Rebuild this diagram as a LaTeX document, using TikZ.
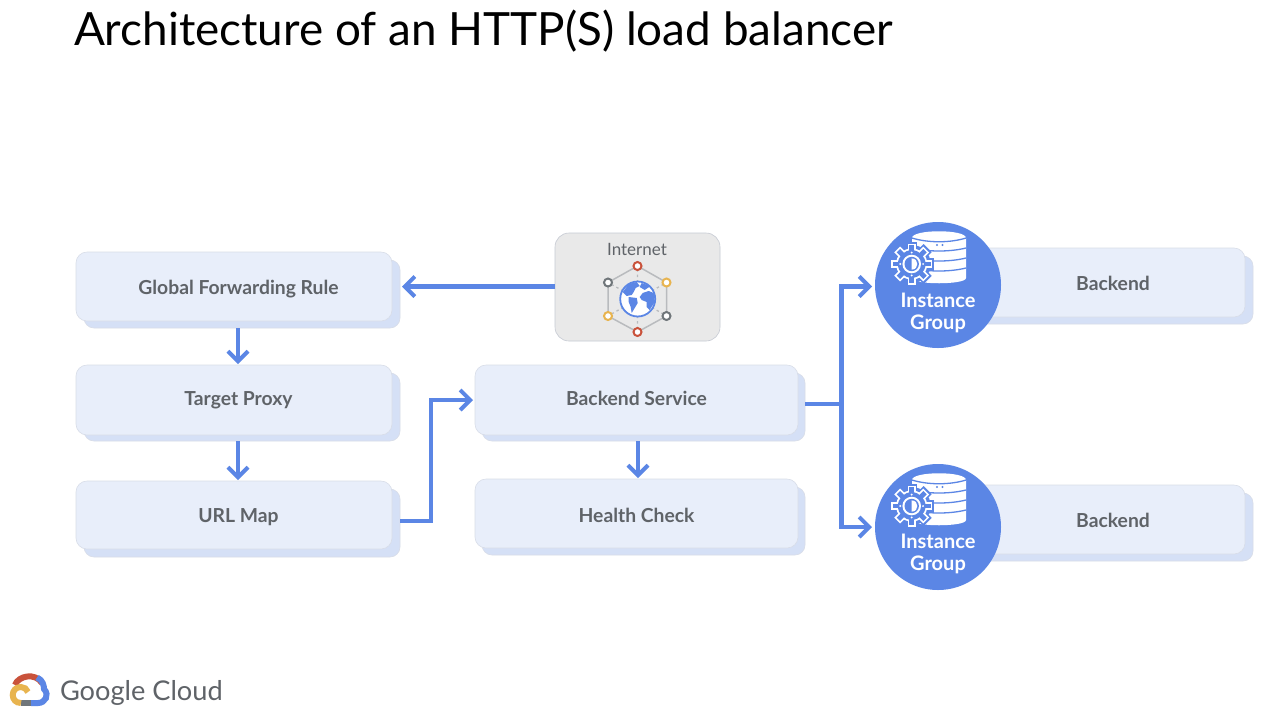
\documentclass[tikz,border=0pt]{standalone}
\usepackage{fontspec}
\setmainfont{Lato}
\usetikzlibrary{arrows.meta}
\definecolor{gblue}{HTML}{5B86E5}
\definecolor{boxfront}{HTML}{E8EEFA}
\definecolor{boxback}{HTML}{D5E0F6}
\definecolor{boxline}{HTML}{D8DDE8}
\definecolor{labelgrey}{HTML}{5F6368}
\definecolor{netgrey}{HTML}{E9E9E9}
\definecolor{hexgrey}{HTML}{B9BBBE}
\definecolor{gred}{HTML}{C9523B}
\definecolor{gyellow}{HTML}{E8B44F}
\definecolor{ggrey}{HTML}{70767A}
\newcommand{\boxlabel}[2]{\raisebox{#1}[0pt][0pt]{#2}}
\tikzset{
  every node/.style={inner sep=0pt,outer sep=0pt},
  frontbox/.style={draw=boxline,line width=.6pt,fill=boxfront,rounded corners=11pt,anchor=north west,text=labelgrey,align=center,font=\fontsize{19.3}{23}\selectfont\bfseries},
  backbox/.style={draw=boxline,line width=.6pt,fill=boxback,rounded corners=10pt,anchor=north west},
  flow/.style={draw=gblue,line width=4.2pt,-{Straight Barb[length=10pt,width=20pt,line width=4pt]}},
  flowplain/.style={draw=gblue,line width=4.2pt},
  netdot/.style={circle,draw=#1,fill=white,line width=2pt,minimum size=8pt},
  grouptext/.style={text=white,font=\fontsize{20}{22}\selectfont\bfseries,align=center},
  igroup/.pic={
    % database
    \fill[white] (-26,-47) .. controls (-26,-56) and (28,-56) .. (28,-47) -- (28,-7) .. controls (28,0) and (-26,0) .. (-26,-7) -- cycle;
    \foreach \yy in {-37,-27,-17}{\draw[gblue,line width=1.3pt] (-26,\yy) .. controls (-10,\yy+4) and (12,\yy+4) .. (28,\yy);}
    \draw[gblue,line width=1.3pt] (-26,-47) .. controls (-10,-42) and (12,-42) .. (28,-47);
    \fill[gblue] (-1,-40) circle (1.1) (4.5,-40) circle (1.1);
    % gear
    \fill[gblue] (-26.3,-21) circle (19);
    \foreach \a in {0,45,...,315}{\fill[gblue,rotate around={\a:(-26.3,-21)}] (-32,-43.5) rectangle (-20.6,-36);}
    \foreach \a in {0,45,...,315}{\fill[white,rotate around={\a:(-26.3,-21)}] (-30.5,-41.5) rectangle (-22.1,-34);}
    \fill[white] (-26.3,-21) circle (15.6);
    \foreach \a in {0,45,...,315}{\fill[gblue,rotate around={\a:(-26.3,-21)}] (-28.7,-39.8) rectangle (-23.9,-33);}
    \fill[gblue] (-26.3,-21) circle (13.8);
    \fill[white] (-26.3,-21) circle (9.3);
    \fill[gblue] (-26.3,-21) circle (7.2);
    \fill[white] (-26.3,-26.6) -- (-26.3,-15.4) .. controls (-22.5,-15.4) and (-20.7,-18) .. (-20.7,-21) .. controls (-20.7,-24) and (-22.5,-26.6) .. (-26.3,-26.6) -- cycle;
    \foreach \a in {0,90,180,270}{\fill[white] (-26.3,-21) ++(\a:11.4) circle (1.1);}
  },
}
\begin{document}
\begin{tikzpicture}[x=1pt,y=-1pt]
\useasboundingbox (0,0) rectangle (1280,716);
\fill[white] (0,0) rectangle (1280,716);

\node[anchor=west,text=black,font=\fontsize{45.8}{50}\selectfont] (title) at (74,31) {Architecture of an HTTP(S) load balancer};

% boxes
\node[backbox,minimum width=316pt,minimum height=68pt] (gfrb) at (84,260) {};
\node[frontbox,minimum width=316pt,minimum height=69pt] (gfr) at (76,252) {\boxlabel{-7.5pt}{\hspace*{9pt}Global Forwarding Rule}};
\node[backbox,minimum width=316pt,minimum height=68pt] (tpb) at (84,373) {};
\node[frontbox,minimum width=316pt,minimum height=70pt] (tp) at (76,365) {\boxlabel{-5pt}{\hspace*{9pt}Target Proxy}};
\node[backbox,minimum width=316pt,minimum height=68pt] (umb) at (84,489) {};
\node[frontbox,minimum width=316pt,minimum height=68pt] (um) at (76,481) {\boxlabel{-7pt}{\hspace*{9pt}URL Map}};
\node[backbox,minimum width=323pt,minimum height=68pt] (bsb) at (482,373) {};
\node[frontbox,minimum width=323pt,minimum height=70pt] (bs) at (475,365) {\boxlabel{-5pt}{Backend Service}};
\node[backbox,minimum width=323pt,minimum height=68pt] (hcb) at (482,487) {};
\node[frontbox,minimum width=323pt,minimum height=69pt] (hc) at (475,479) {\boxlabel{-8.5pt}{Health Check}};
\node[backbox,minimum width=300pt,minimum height=68pt] (be1b) at (953,256) {};
\node[frontbox,minimum width=300pt,minimum height=69pt] (be1) at (945,248) {\boxlabel{-7.5pt}{\hspace*{36pt}Backend}};
\node[backbox,minimum width=300pt,minimum height=68pt] (be2b) at (953,493) {};
\node[frontbox,minimum width=300pt,minimum height=69pt] (be2) at (945,485) {\boxlabel{-7.5pt}{\hspace*{36pt}Backend}};

% internet
\node[draw=boxline!80!gray,line width=.6pt,fill=netgrey,rounded corners=14pt,anchor=north west,minimum width=165pt,minimum height=108pt] (net) at (555,233) {};
\node[text=labelgrey,font=\fontsize{17}{20}\selectfont] (nettext) at (637,249.5) {Internet};
\coordinate (h1) at (637.5,266);
\coordinate (h2) at (666.5,282.5);
\coordinate (h3) at (666.5,316);
\coordinate (h4) at (637.5,332);
\coordinate (h5) at (608,316);
\coordinate (h6) at (608,282.5);
\coordinate (gc) at (637.7,299);
\draw[hexgrey,line width=1.5pt] (h1)--(h2)--(h3)--(h4)--(h5)--(h6)--cycle;
\foreach \p in {h1,h2,h3,h4,h5,h6}{\draw[hexgrey,line width=1.3pt,dash pattern=on 2.5pt off 3pt] (gc)--(\p);}
\fill[white] (gc) circle (17.5);
\draw[gblue,line width=1.8pt] (gc) circle (17.5);
\begin{scope}[shift={(gc)}]
\fill[gblue] (-15,-7) -- (-9,-15) -- (-1,-17) -- (2,-13) -- (-2,-11) -- (-4,-7) -- (-6,-4) -- (-11,-3) -- cycle;
\fill[gblue] (-9,-2) -- (-1,-1) -- (0,4) -- (-3,9) -- (-6,14) -- (-7,8) -- (-9,3) -- cycle;
\fill[gblue] (5,-6) -- (11,-8) -- (16,-6) -- (17,3) -- (12,11) -- (9,8) -- (9,3) -- (4,1) -- (2,-2) -- cycle;
\fill[gblue] (4,-16) -- (13,-13) -- (7,-9) -- (2,-12) -- cycle;
\end{scope}
\node[netdot=gred] (n1) at (h1) {};
\node[netdot=gyellow] (n2) at (h2) {};
\node[netdot=ggrey] (n3) at (h3) {};
\node[netdot=gred] (n4) at (h4) {};
\node[netdot=gyellow] (n5) at (h5) {};
\node[netdot=ggrey] (n6) at (h6) {};

% instance groups
\node[circle,fill=gblue,minimum size=126pt] (ig1) at (938,285) {};
\node[circle,fill=gblue,minimum size=126pt] (ig2) at (938,527) {};
\pic at (938,285) {igroup};
\pic at (938,527) {igroup};
\node[grouptext] (ig1t) at (938,313) {Instance\\Group};
\node[grouptext] (ig2t) at (938,554) {Instance\\Group};

% connectors
\coordinate (jct) at (841.5,404);
\draw[flow] (net.west |- gfr.east) -- ([xshift=2pt]gfrb.east |- gfr.east);
\draw[flow] ([xshift=4pt]gfr.south |- gfrb.south) -- ([xshift=4pt,yshift=1pt]tp.north);
\draw[flow] ([xshift=4pt]tp.south |- tpb.south) -- ([xshift=4pt,yshift=1pt]um.north);
\draw[flow] ([xshift=1.5pt]bs.south |- bsb.south) -- ([xshift=1.5pt,yshift=1pt]hc.north);
\draw[flow] ([yshift=2pt]umb.east) -- (431,521) -- (431,400) -- ([xshift=-2pt]bs.west |- 0,400);
\draw[flowplain] ([yshift=3pt]bsb.east) -- (jct);
\draw[flow] (jct) -- (841.5,286.5) -- ([xshift=-3pt]ig1.west |- 0,286.5);
\draw[flow] (jct) -- (841.5,527) -- ([xshift=-3pt]ig2.west |- 0,527);

% logo
\begin{scope}
\draw[gred,line width=6pt] (15,685) .. controls (18,676) and (35,672) .. (42,683);
\draw[gblue,line width=6pt] (37,677.5) .. controls (43,680) and (44,686) .. (44,689) .. controls (50,695) and (45,703) .. (38,703) -- (31,703);
\draw[ggrey,line width=6pt] (31,703) -- (21,703);
\draw[gyellow,line width=6pt] (21,703) .. controls (10,703) and (10,687) .. (21,687) .. controls (24,687) and (27,689) .. (28,692);
\end{scope}
\node[anchor=west,text=labelgrey,font=\fontsize{27.2}{32}\selectfont] (cloud) at (60,693) {Google Cloud};
\end{tikzpicture}
\end{document}
